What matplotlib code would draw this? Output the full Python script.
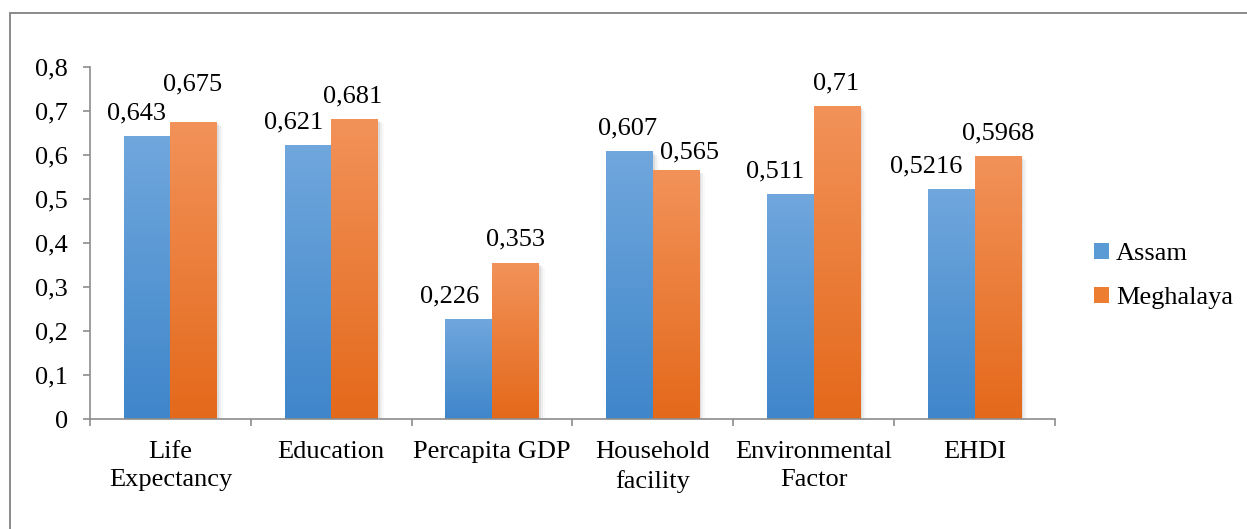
import numpy as np
import matplotlib
matplotlib.use("Agg")
import matplotlib.pyplot as plt
from matplotlib.colors import LinearSegmentedColormap
from matplotlib.patches import Rectangle

plt.rcParams["font.family"] = ["Liberation Serif", "DejaVu Serif"]

categories = ["Life\nExpectancy", "Education", "Percapita GDP",
              "Household\nfacility", "Environmental\nFactor", "EHDI"]
assam = [0.643, 0.621, 0.226, 0.607, 0.511, 0.5216]
meghalaya = [0.675, 0.681, 0.353, 0.565, 0.71, 0.5968]
labels_assam = ["0,643", "0,621", "0,226", "0,607", "0,511", "0,5216"]
labels_meghalaya = ["0,675", "0,681", "0,353", "0,565", "0,71", "0,5968"]
yticks = [0, 0.1, 0.2, 0.3, 0.4, 0.5, 0.6, 0.7, 0.8]
ytick_labels = ["0", "0,1", "0,2", "0,3", "0,4", "0,5", "0,6", "0,7", "0,8"]

# decalages des etiquettes (en pixels), comme Excel les a poses
dx_assam = [-11, -14, -19, -2, -15, -25]
dy_assam = [17, 17, 17, 17, 17, 17]
dx_megh = [-1, -2, 0, 13, -1, 0]
dy_megh = [32, 17, 18, 12, 17, 17]

BLEU = ("#70a7dd", "#3f86ca")
ORANGE = ("#f29259", "#e4691b")
AXE = "#8c8c8c"
FS = 19

W, H = 1247, 529
fig = plt.figure(figsize=(W / 100, H / 100), dpi=100)
ax = fig.add_axes([90 / W, 1 - 419 / H, (1055 - 90) / W, (419 - 67) / H])

# cadre de la zone graphique (seuls le haut et la gauche sont visibles)
fig.add_artist(Rectangle((9.5 / W, -0.2), 2, 1.2 - 13.5 / H,
                         transform=fig.transFigure, fill=False,
                         ec="#8a8a8a", lw=1.4))

n = len(categories)
x = np.arange(n)
larg = 0.29


def barre(x0, h, couleurs):
    # ombre douce a droite
    for k, a in enumerate((0.07, 0.045, 0.025)):
        ax.add_patch(Rectangle((x0 + 0.012 * (k + 1), 0), larg, h - 0.003 * (k + 1),
                               fc="black", alpha=a, lw=0, zorder=1))
    cmap = LinearSegmentedColormap.from_list("g", [couleurs[1], couleurs[0]])
    grad = np.linspace(0, 1, 256).reshape(-1, 1)
    ax.imshow(grad, extent=(x0, x0 + larg, 0, h), origin="lower", cmap=cmap,
              aspect="auto", zorder=2, interpolation="bilinear")


for i in range(n):
    barre(x[i] - larg, assam[i], BLEU)
    barre(x[i], meghalaya[i], ORANGE)
    ax.annotate(labels_assam[i], (x[i] - larg / 2, assam[i]),
                xytext=(dx_assam[i], dy_assam[i]), textcoords="offset pixels",
                ha="center", va="baseline", fontsize=FS)
    ax.annotate(labels_meghalaya[i], (x[i] + larg / 2, meghalaya[i]),
                xytext=(dx_megh[i], dy_megh[i]), textcoords="offset pixels",
                ha="center", va="baseline", fontsize=FS)

ax.set_xlim(-0.5, n - 0.5)
ax.set_ylim(0, 0.8)
ax.set_yticks(yticks)
ax.set_yticklabels(ytick_labels, fontsize=FS)
ax.set_xticks(x)
ax.set_xticklabels(categories, fontsize=FS, linespacing=1.35)
ax.set_xticks(np.arange(-0.5, n, 1), minor=True)
ax.tick_params(axis="x", which="major", length=0, pad=16)
ax.tick_params(axis="x", which="minor", length=5, color=AXE, width=1.2)
ax.tick_params(axis="y", length=5, color=AXE, width=1.2, pad=11)
for s in ("top", "right"):
    ax.spines[s].set_visible(False)
for s in ("left", "bottom"):
    ax.spines[s].set_color(AXE)
    ax.spines[s].set_linewidth(1.2)

# legende a droite
handles = [Rectangle((0, 0), 1, 1, fc="#5b9bd5"), Rectangle((0, 0), 1, 1, fc="#ed7d31")]
fig.legend(handles, ["Assam", "Meghalaya"], loc="center left",
           bbox_to_anchor=(1094 / W, 1 - 276 / H), frameon=False, fontsize=FS,
           borderpad=0, borderaxespad=0,
           handlelength=0.57, handleheight=0.57, handletextpad=0.27, labelspacing=0.82)

fig.savefig("out.png", dpi=100)
